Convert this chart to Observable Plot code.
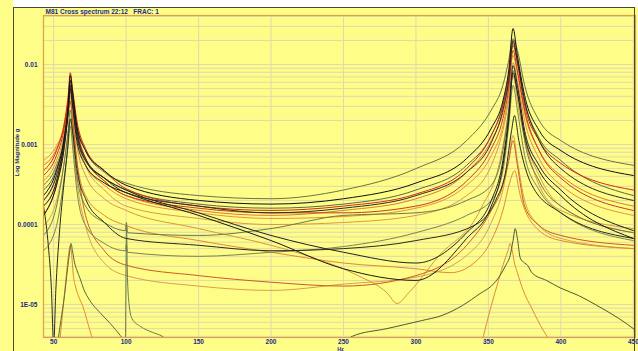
<!DOCTYPE html>
<html>
<head>
<meta charset="utf-8">
<script src="https://cdn.jsdelivr.net/npm/d3@7"></script>
<script src="https://cdn.jsdelivr.net/npm/@observablehq/plot@0.6"></script>
<style>
  html, body { margin: 0; padding: 0; background: #fdfd88; }
  #wrap { position: relative; width: 638px; height: 351px; background: #fdfd88; overflow: hidden; }
  #topstrip { position: absolute; left: 13px; top: 0; width: 625px; height: 7px; background: #ffffff; }
  #win { position: absolute; left: 13px; top: 7px; width: 622px; height: 350px; border-left: 1px solid #4a4a2a; border-top: 1px solid #4a4a2a; border-right: 1px solid #4a4a2a; box-sizing: border-box; pointer-events: none; }
  #chart { position: absolute; left: 0; top: 0; }
</style>
</head>
<body>
<div id="wrap">
  <div id="topstrip"></div>
  <div id="chart"></div>
  <div id="win"></div>
</div>
<script>
const titleText = "M81 Cross spectrum 22:12   FRAC: 1";
const xLabel = "Hz";
const yLabel = "Log Magnitude g";
const xTicks = [50, 100, 150, 200, 250, 300, 350, 400, 450];
const yTicks = [0.01, 0.001, 0.0001, 0.00001];
const yTickLabels = ["0.01", "0.001", "0.0001", "1E-05"];

// shared frequency grid for the broad two-resonance curves
const hzMain = [43,52,57,60,61.5,63,66,72,85,100,150,200,250,300,335,352,360,364,367,370,375,385,400,450];

const a1 = [0.00031,0.00055,0.00112,0.0027,0.0047,0.0035,0.0017,0.00084,0.00045,0.00033,0.00023,0.00021,0.00027,0.00050,0.00112,0.0027,0.0055,0.0112,0.0211,0.0150,0.0055,0.0020,0.00112,0.00055];
const a2 = [0.00023,0.00047,0.00112,0.0031,0.0073,0.0047,0.0017,0.00084,0.00047,0.00031,0.00020,0.00018,0.00021,0.00033,0.00067,0.0016,0.0035,0.0084,0.0282,0.0130,0.0041,0.0015,0.00084,0.00041];
const a3 = [0.00047,0.00084,0.0017,0.0041,0.0079,0.0050,0.0020,0.00089,0.00047,0.00028,0.00017,0.00015,0.00017,0.00024,0.00050,0.0013,0.0031,0.0073,0.0188,0.0106,0.0031,0.00112,0.00058,0.00027];
const a4 = [0.00055,0.00089,0.0017,0.0035,0.0055,0.0038,0.0016,0.00067,0.00035,0.00023,0.00015,0.00013,0.00015,0.00021,0.00045,0.00112,0.0025,0.0055,0.0130,0.0079,0.0025,0.00084,0.00041,0.00017];
const a5 = [0.00017,0.00035,0.00097,0.0027,0.0055,0.0035,0.0013,0.00063,0.00038,0.00027,0.00014,0.000073,0.000045,0.000033,0.000079,0.00020,0.00063,0.0023,0.0097,0.0055,0.0015,0.00055,0.00027,0.000084];
const a6 = [0.00013,0.00031,0.00084,0.0025,0.0050,0.0031,0.00112,0.00055,0.00033,0.00025,0.00013,0.000063,0.000028,0.000020,0.000067,0.00017,0.00055,0.0020,0.0079,0.0045,0.0013,0.00047,0.00023,0.000067];
const a7 = [0.00035,0.00063,0.0013,0.0031,0.0045,0.0031,0.0013,0.00055,0.00031,0.00021,0.00014,0.000119,0.000126,0.00016,0.00031,0.00073,0.0017,0.0041,0.0106,0.0063,0.0020,0.00067,0.00031,0.00013];
const a8 = [0.00041,0.00073,0.0015,0.0035,0.0063,0.0041,0.0016,0.00067,0.00035,0.00023,0.00016,0.00014,0.00014,0.00017,0.00035,0.00089,0.0021,0.0050,0.0150,0.0084,0.0027,0.00084,0.00038,0.00015];
const a9 = [0.00027,0.00050,0.00112,0.0028,0.0050,0.0033,0.0014,0.00063,0.00038,0.00027,0.00018,0.00016,0.00018,0.00027,0.00055,0.0013,0.0031,0.0067,0.0173,0.0106,0.0035,0.0012,0.00063,0.00023];
const a10 = [0.00020,0.00041,0.00097,0.0027,0.0063,0.0041,0.0015,0.00067,0.00038,0.00025,0.00017,0.00014,0.00016,0.00023,0.00045,0.00106,0.0027,0.0063,0.0200,0.0112,0.0035,0.00112,0.00050,0.00020];
const a11 = [0.00063,0.00097,0.0016,0.0031,0.0041,0.0031,0.0015,0.00055,0.00027,0.00017,0.000119,0.0001,0.000106,0.00013,0.00023,0.00055,0.0015,0.0035,0.0073,0.0041,0.0013,0.00041,0.00017,0.000079];
const a14 = [0.00013,0.00031,0.00084,0.0023,0.0035,0.0021,0.00063,0.00013,0.000047,0.000031,0.000023,0.000019,0.000017,0.000023,0.000055,0.00015,0.00031,0.00063,0.00112,0.00055,0.00017,0.000097,0.000073,0.000055];
const a17 = [0.000097,0.00020,0.00055,0.0013,0.0020,0.0012,0.00035,0.000097,0.000033,0.000023,0.000017,0.000015,0.000018,0.000022,0.000041,0.000106,0.00027,0.00063,0.0013,0.00063,0.00020,0.000097,0.000067,0.000050];

// curves with a small harmonic blip at 100 Hz
const hzBlip = [43,52,57,60,61.5,63,66,72,85,99.5,100.2,101,150,200,250,300,335,352,360,364,367,370,375,385,400,450];
const a12 = [0.000073,0.00017,0.00055,0.0015,0.0027,0.0015,0.00041,0.00017,0.000106,0.000084,0.000106,0.000079,0.000073,0.000089,0.00013,0.00014,0.00020,0.00031,0.00084,0.0027,0.0084,0.0047,0.00112,0.00035,0.00017,0.000079];
const a13 = [0.000047,0.000097,0.00035,0.00097,0.0017,0.00097,0.00027,0.000097,0.000058,0.000047,0.000057,0.000045,0.000040,0.000045,0.000053,0.000079,0.00013,0.00020,0.00047,0.0017,0.0055,0.0027,0.00073,0.00027,0.00014,0.000063];

// curve with an anti-resonance near 287 Hz
const hzDip = [43,52,57,60,61.5,63,66,72,85,100,150,200,230,260,280,287,295,315,345,358,364,367,371,385,400,450];
const a15 = [0.00020,0.00041,0.00112,0.0027,0.0041,0.0025,0.00097,0.00041,0.00021,0.00015,0.000089,0.000055,0.000038,0.000023,0.000014,0.0000103,0.000014,0.000039,0.00016,0.00063,0.0027,0.0073,0.0027,0.00031,0.00015,0.000089];

// curve with a broad minimum near 324 Hz
const hzLow = [43,52,57,60,61.5,63,66,72,85,100,150,200,250,300,324,340,352,360,365,368,372,385,400,450];
const a16 = [0.00017,0.00035,0.00097,0.0023,0.0035,0.0020,0.00063,0.00023,0.00013,0.000097,0.000063,0.000045,0.000033,0.000028,0.000025,0.000033,0.000063,0.00015,0.00035,0.00047,0.00023,0.000084,0.000063,0.000050];

// curve with a deep notch near 50 Hz
const hzNotch = [43,46,48.5,50,51.5,54,57,59.5,61.5,63,66,72,85,100,150,200,250,300,340,355,362,366,368,371,380,400,450];
const n1 = [0.00017,0.000063,0.000015,0.0000031,0.000015,0.000079,0.00031,0.00084,0.0021,0.0015,0.00050,0.00021,0.000106,0.000067,0.000055,0.000047,0.000050,0.000063,0.000097,0.00020,0.00047,0.0015,0.0023,0.00112,0.00031,0.00014,0.000067];

// 100 Hz spike
const hzSpike = [99.6,100,100.3,100.8,102,104,110,118,125,132];
const s1 = [0.0000031,0.000035,0.000097,0.000027,0.0000103,0.0000067,0.0000053,0.0000045,0.0000040,0.0000031];

// low curve around the second resonance
const hzR1 = [248,256,280,304,318,332,345,352,358,362,365,367,368.5,370,372,375,377,380,390,400,412,425,440,452];
const r1 = [0.0000031,0.0000040,0.0000050,0.0000063,0.0000073,0.0000097,0.000014,0.000017,0.000023,0.000031,0.000041,0.000063,0.000089,0.000067,0.000038,0.000033,0.000031,0.000025,0.000020,0.000016,0.000013,0.0000097,0.0000067,0.0000047];
const hzR2 = [345,352,357,361,363.5,365,366.5,368,370,374,380,388,395];
const r2 = [0.0000031,0.0000097,0.000020,0.000035,0.000047,0.000058,0.000047,0.000033,0.000025,0.000015,0.0000089,0.0000047,0.0000031];

// low curves around the first resonance
const hzP1 = [52.5,55,57.5,59.5,61,62,63,64.5,66,68.3,70.5,75,82,89,96,100];
const p1 = [0.0000031,0.0000063,0.000013,0.000027,0.000045,0.000058,0.000047,0.000033,0.000027,0.000021,0.000016,0.0000112,0.0000079,0.0000058,0.0000041,0.0000033];
const hzP2 = [54,56,58,60,61.5,62.5,63.5,65,67,70.4,74,78];
const p2 = [0.0000031,0.0000073,0.000017,0.000038,0.000055,0.000041,0.000024,0.000017,0.000013,0.0000092,0.0000055,0.0000031];

const series = [
  {hz: hzMain, v: a11, color: "#dc9a48"},
  {hz: hzMain, v: a17, color: "#d8a050"},
  {hz: hzLow,  v: a16, color: "#e08838"},
  {hz: hzDip,  v: a15, color: "#d89840"},
  {hz: hzMain, v: a14, color: "#d05a20"},
  {hz: hzMain, v: a7,  color: "#e8903a"},
  {hz: hzMain, v: a4,  color: "#e07a2a"},
  {hz: hzP2,   v: p2,  color: "#e08a3a"},
  {hz: hzR2,   v: r2,  color: "#e08a3a"},
  {hz: hzBlip, v: a13, color: "#7a8450"},
  {hz: hzBlip, v: a12, color: "#6b7a4a"},
  {hz: hzMain, v: a9,  color: "#5d6b3c"},
  {hz: hzMain, v: a1,  color: "#6b7344"},
  {hz: hzSpike, v: s1, color: "#6b7a4a"},
  {hz: hzR1,   v: r1,  color: "#4f5a30"},
  {hz: hzP1,   v: p1,  color: "#5a6a3a"},
  {hz: hzMain, v: a8,  color: "#c83a1a"},
  {hz: hzMain, v: a3,  color: "#d42a12"},
  {hz: hzNotch, v: n1, color: "#2a2a1a"},
  {hz: hzMain, v: a10, color: "#2a2a2a"},
  {hz: hzMain, v: a6,  color: "#1a1a1a"},
  {hz: hzMain, v: a5,  color: "#222222"},
  {hz: hzMain, v: a2,  color: "#111111"}
];

const navy = "#1c2a8c";
const gridColor = "#e0d9ac";

// log grid positions (1..9 per decade)
const minorGrid = [];
for (let e = -6; e <= -1; e++) for (let k = 1; k <= 9; k++) minorGrid.push(k * Math.pow(10, e));
const yDomain = [3.87e-6, 0.041];
const gridVals = minorGrid.filter(v => v >= yDomain[0] && v <= yDomain[1]);

const lineMarks = series.map(s =>
  Plot.line(s.hz.map((h, i) => ({hz: h, v: s.v[i]})), {
    x: "hz", y: "v", stroke: s.color, strokeWidth: 1, curve: "monotone-x", clip: true
  })
);

const chart = Plot.plot({
  width: 638,
  height: 351,
  marginLeft: 43,
  marginRight: 3,
  marginTop: 15,
  marginBottom: 14,
  style: {background: "transparent", fontFamily: "'Liberation Sans', Arial, sans-serif", fontSize: "6.5px", fontWeight: "bold", color: navy},
  x: {domain: [43, 451.5], label: null},
  y: {type: "log", domain: yDomain, label: null},
  marks: [
    Plot.gridY(gridVals, {stroke: gridColor, strokeOpacity: 1, strokeWidth: 1}),
    Plot.gridX(xTicks, {stroke: gridColor, strokeOpacity: 1, strokeWidth: 1}),
    ...lineMarks,
    Plot.frame({stroke: "#d9a24a", strokeWidth: 1.2}),
    Plot.axisX(xTicks, {tickSize: 0, tickPadding: 1.5, label: null, fill: navy, fontWeight: "bold", fontSize: 6.5, tickFormat: d => String(d)}),
    Plot.axisY(yTicks, {tickSize: 0, tickPadding: 6, label: null, fill: navy, fontWeight: "bold", fontSize: 6.5, tickFormat: d => yTickLabels[yTicks.indexOf(d)]}),
    Plot.text([xLabel], {text: d => d, frameAnchor: "bottom", dx: 1, dy: 11.5, lineAnchor: "middle", fill: navy, fontWeight: "bold", fontSize: 5.5}),
    Plot.text([yLabel], {text: d => d, frameAnchor: "left", dx: -26, rotate: -90, fill: navy, fontWeight: "bold", fontSize: 6}),
    Plot.text([titleText], {text: d => d, frameAnchor: "top-left", dx: 2, dy: -2, textAnchor: "start", lineAnchor: "bottom", fill: navy, fontWeight: "bold", fontSize: 6.5})
  ]
});
document.getElementById("chart").appendChild(chart);
</script>
</body>
</html>
